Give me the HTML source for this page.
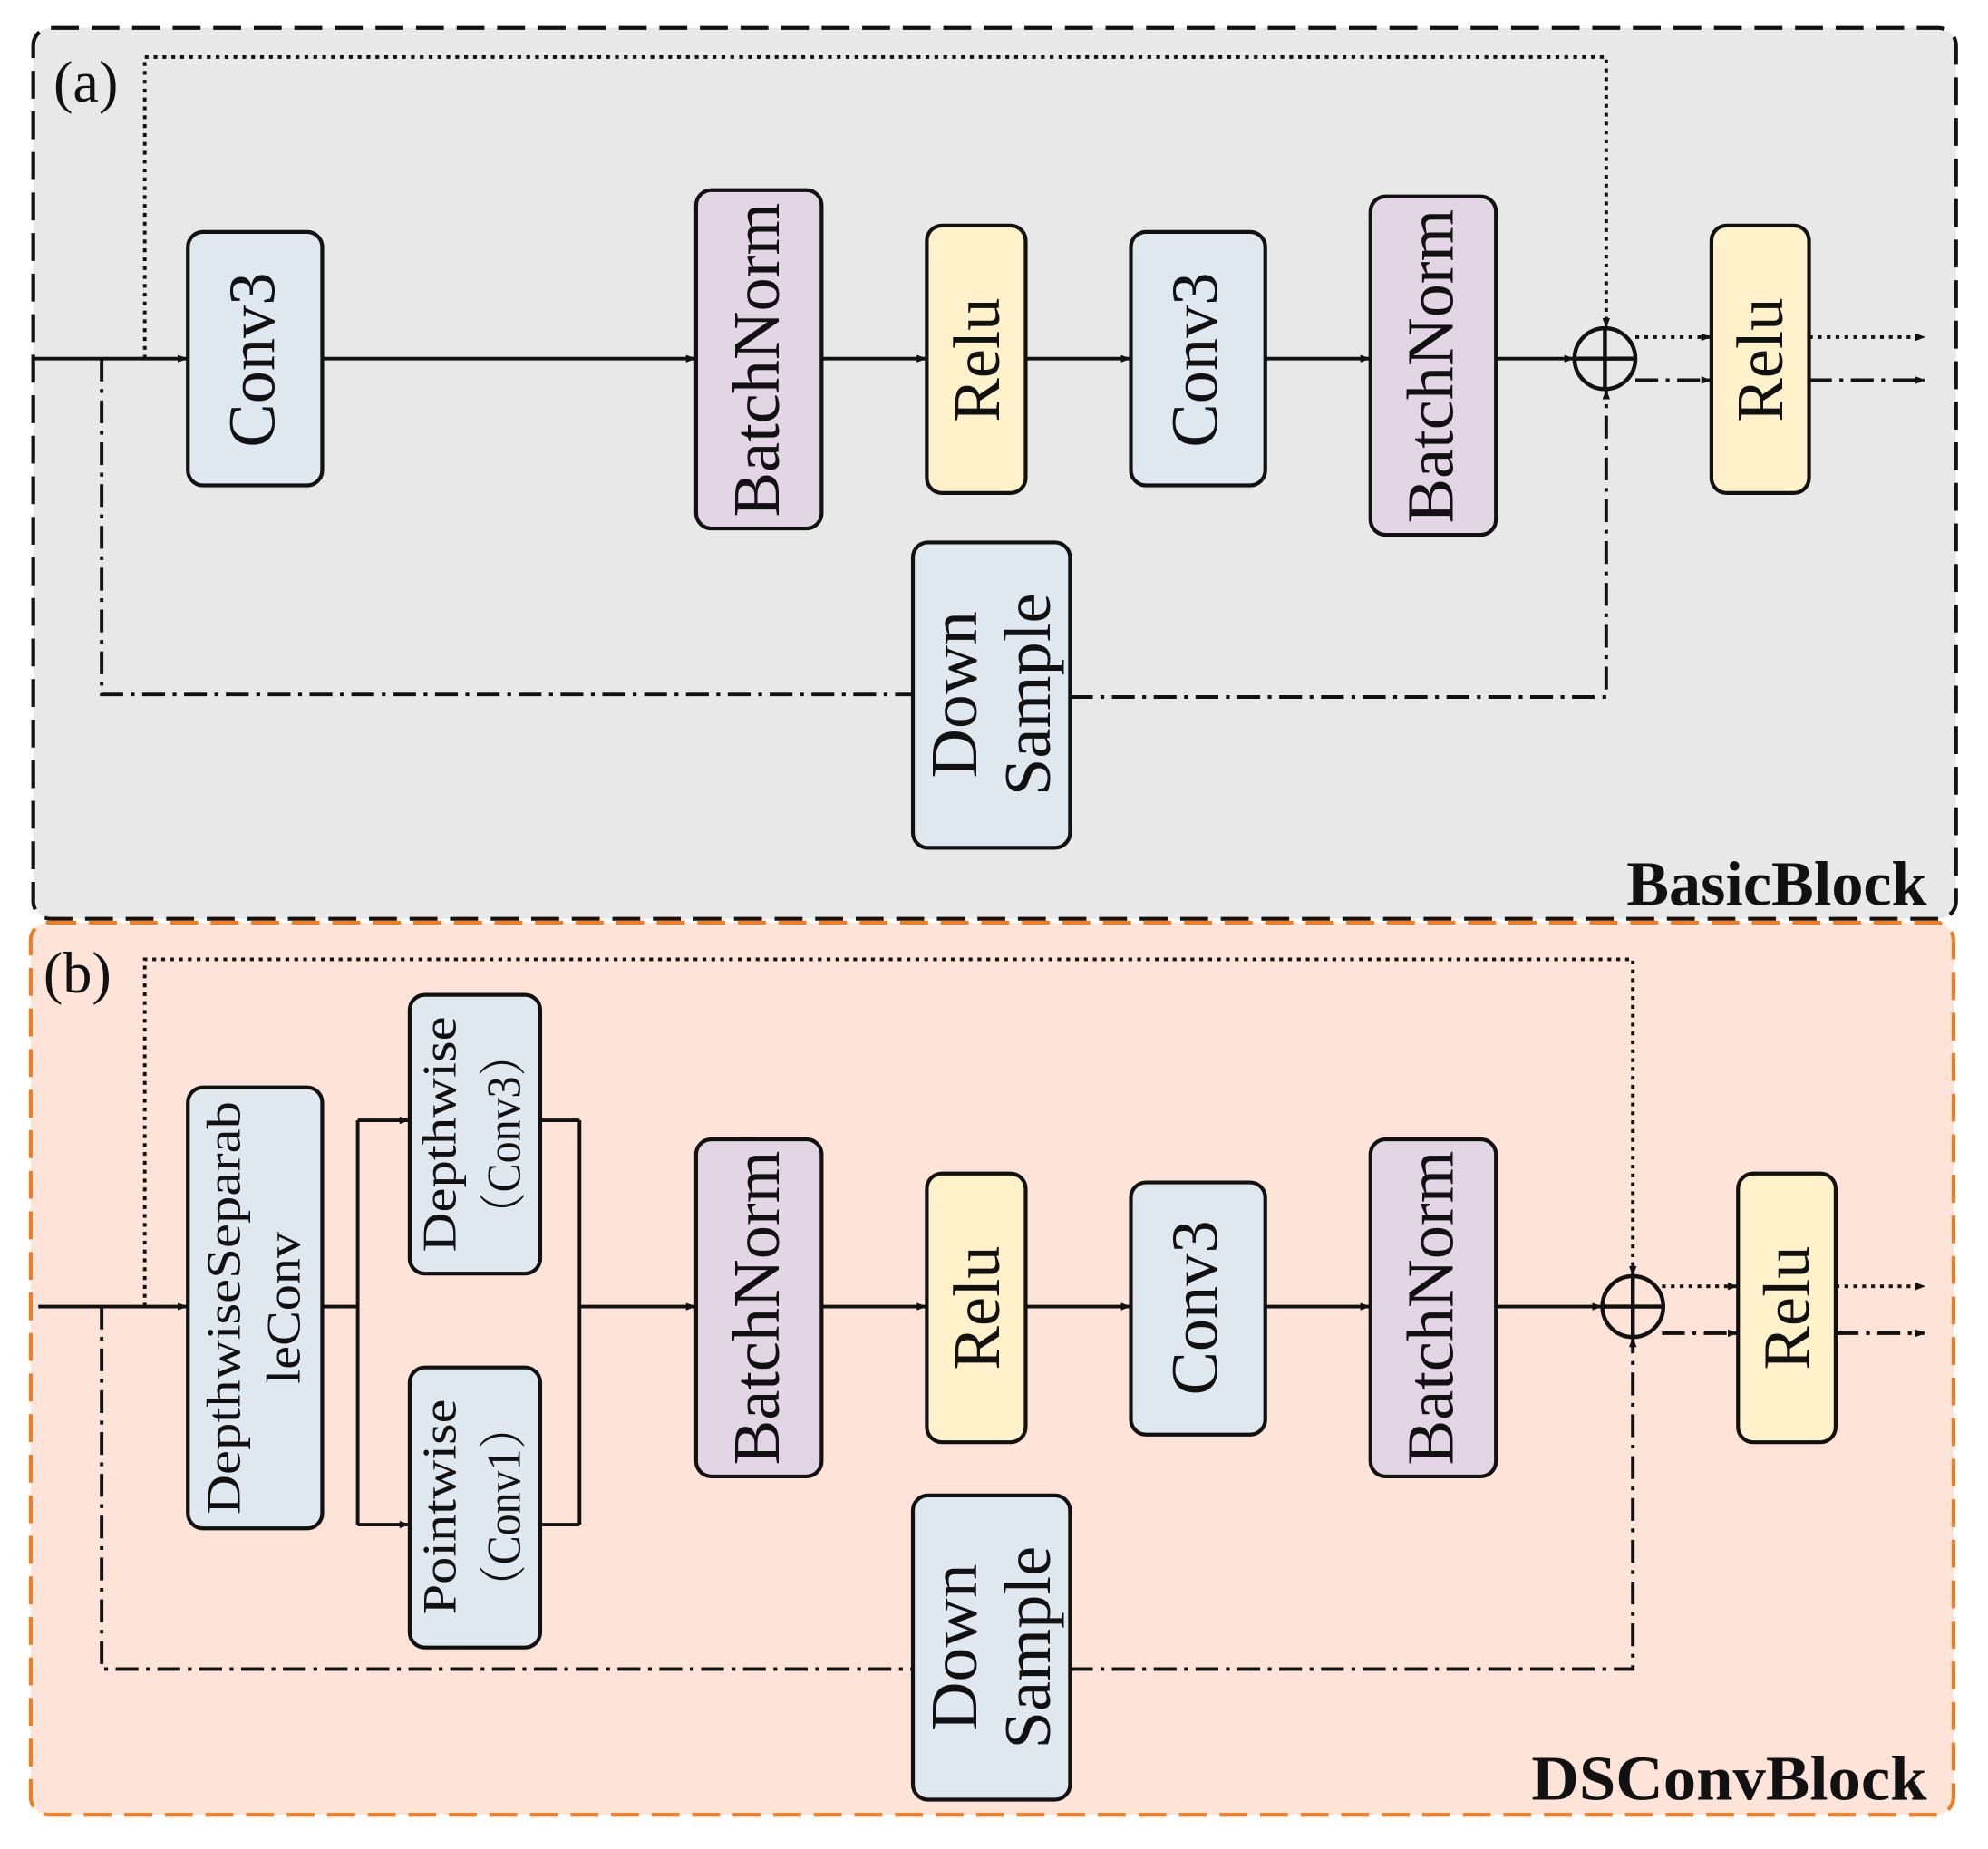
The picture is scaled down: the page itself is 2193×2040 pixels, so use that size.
<!DOCTYPE html>
<html><head><meta charset="utf-8"><style>
html,body{margin:0;padding:0;background:#fff;}
svg{display:block;}
text{font-family:"Liberation Serif","Noto Serif CJK SC",serif;fill:#111;}
</style></head><body>
<svg width="2193" height="2040" viewBox="0 0 1568 1459" xmlns="http://www.w3.org/2000/svg">
<defs>
<marker id="ar" markerWidth="8" markerHeight="8" refX="7" refY="4" orient="auto" markerUnits="userSpaceOnUse">
<path d="M0,1 L8,4 L0,7 Z" fill="#111"/></marker>
</defs>
<rect x="26" y="22" width="1517" height="703" rx="14" fill="#e8e8e8" stroke="#111" stroke-width="3" stroke-dasharray="22,10"/>
<rect x="24" y="728" width="1517" height="704" rx="14" fill="#fde3d8" stroke="#ef7d22" stroke-width="3" stroke-dasharray="22,10"/>
<text x="42" y="80" font-size="46">(a)</text>
<text x="1520" y="714" font-size="50" font-weight="bold" text-anchor="end" textLength="237" lengthAdjust="spacingAndGlyphs">BasicBlock</text>
<text x="34" y="783" font-size="46">(b)</text>
<text x="1520" y="1420" font-size="50" font-weight="bold" text-anchor="end" textLength="312" lengthAdjust="spacingAndGlyphs">DSConvBlock</text>

<g stroke="#111" stroke-width="2.8" fill="none">
<line x1="26" y1="283" x2="147" y2="283" marker-end="url(#ar)"/>
<line x1="254" y1="283" x2="548" y2="283" marker-end="url(#ar)"/>
<line x1="648" y1="283" x2="730" y2="283" marker-end="url(#ar)"/>
<line x1="809" y1="283" x2="891" y2="283" marker-end="url(#ar)"/>
<line x1="998" y1="283" x2="1080" y2="283" marker-end="url(#ar)"/>
<line x1="1180" y1="283" x2="1241" y2="283" marker-end="url(#ar)"/>
<polyline points="114,283 114,45 1267,45 1267,258" stroke-dasharray="3,4" marker-end="url(#ar)"/>
<polyline points="80,283 80,548 720,548" stroke-dasharray="18,6,3,6"/>
<polyline points="844,550 1267,550 1267,308" stroke-dasharray="18,6,3,6" marker-end="url(#ar)"/>
<line x1="1290" y1="266" x2="1349" y2="266" stroke-dasharray="3,4" marker-end="url(#ar)"/>
<line x1="1290" y1="300" x2="1349" y2="300" stroke-dasharray="18,6,3,6" marker-end="url(#ar)"/>
<line x1="1427" y1="266" x2="1518" y2="266" stroke-dasharray="3,4" marker-end="url(#ar)"/>
<line x1="1427" y1="300" x2="1518" y2="300" stroke-dasharray="18,6,3,6" marker-end="url(#ar)"/>
<circle cx="1266" cy="283" r="24" stroke-width="3.2"/>
<line x1="1242" y1="283" x2="1290" y2="283" stroke-width="3.2"/>
<line x1="1266" y1="259" x2="1266" y2="307" stroke-width="3.2"/>

<line x1="30" y1="1031" x2="147" y2="1031" marker-end="url(#ar)"/>
<line x1="254" y1="1031" x2="282" y2="1031"/>
<line x1="282" y1="884" x2="282" y2="1203"/>
<line x1="282" y1="884" x2="322" y2="884" marker-end="url(#ar)"/>
<line x1="282" y1="1203" x2="322" y2="1203" marker-end="url(#ar)"/>
<line x1="426" y1="884" x2="457" y2="884"/>
<line x1="426" y1="1203" x2="457" y2="1203"/>
<line x1="457" y1="884" x2="457" y2="1203"/>
<line x1="457" y1="1031" x2="548" y2="1031" marker-end="url(#ar)"/>
<line x1="648" y1="1031" x2="730" y2="1031" marker-end="url(#ar)"/>
<line x1="809" y1="1031" x2="891" y2="1031" marker-end="url(#ar)"/>
<line x1="998" y1="1031" x2="1080" y2="1031" marker-end="url(#ar)"/>
<line x1="1180" y1="1031" x2="1263" y2="1031" marker-end="url(#ar)"/>
<polyline points="114,1031 114,757 1288,757 1288,1006" stroke-dasharray="3,4" marker-end="url(#ar)"/>
<polyline points="80,1031 80,1317 720,1317" stroke-dasharray="18,6,3,6"/>
<polyline points="844,1317 1288,1317 1288,1056" stroke-dasharray="18,6,3,6" marker-end="url(#ar)"/>
<line x1="1311" y1="1015" x2="1370" y2="1015" stroke-dasharray="3,4" marker-end="url(#ar)"/>
<line x1="1311" y1="1052" x2="1370" y2="1052" stroke-dasharray="18,6,3,6" marker-end="url(#ar)"/>
<line x1="1448" y1="1015" x2="1518" y2="1015" stroke-dasharray="3,4" marker-end="url(#ar)"/>
<line x1="1448" y1="1052" x2="1518" y2="1052" stroke-dasharray="18,6,3,6" marker-end="url(#ar)"/>
<circle cx="1288" cy="1031" r="24" stroke-width="3.2"/>
<line x1="1264" y1="1031" x2="1312" y2="1031" stroke-width="3.2"/>
<line x1="1288" y1="1007" x2="1288" y2="1055" stroke-width="3.2"/>
</g>

<g stroke="#111" stroke-width="3">
<rect x="148" y="183" width="106" height="200" rx="12" fill="#dfe8ee"/>
<rect x="549" y="150" width="99" height="267" rx="12" fill="#e2d6e4"/>
<rect x="731" y="178" width="78" height="211" rx="12" fill="#fff1c9"/>
<rect x="892" y="183" width="106" height="200" rx="12" fill="#dfe8ee"/>
<rect x="1081" y="155" width="99" height="267" rx="12" fill="#e2d6e4"/>
<rect x="1350" y="178" width="77" height="211" rx="12" fill="#fff1c9"/>
<rect x="720" y="428" width="124" height="241" rx="12" fill="#dfe8ee"/>
<rect x="148" y="858" width="106" height="348" rx="12" fill="#dfe8ee"/>
<rect x="323" y="785" width="103" height="220" rx="12" fill="#dfe8ee"/>
<rect x="323" y="1079" width="103" height="221" rx="12" fill="#dfe8ee"/>
<rect x="549" y="899" width="99" height="266" rx="12" fill="#e2d6e4"/>
<rect x="731" y="926" width="78" height="212" rx="12" fill="#fff1c9"/>
<rect x="892" y="933" width="106" height="199" rx="12" fill="#dfe8ee"/>
<rect x="1081" y="899" width="99" height="266" rx="12" fill="#e2d6e4"/>
<rect x="1371" y="926" width="77" height="212" rx="12" fill="#fff1c9"/>
<rect x="720" y="1180" width="124" height="240" rx="12" fill="#dfe8ee"/>
</g>

<g font-size="52" text-anchor="middle" lengthAdjust="spacingAndGlyphs">
<text transform="translate(216,284) rotate(-90)" textLength="138" lengthAdjust="spacingAndGlyphs">Conv3</text>
<text transform="translate(614,284) rotate(-90)" textLength="248" lengthAdjust="spacingAndGlyphs">BatchNorm</text>
<text transform="translate(788,284) rotate(-90)" textLength="98" lengthAdjust="spacingAndGlyphs">Relu</text>
<text transform="translate(960,284) rotate(-90)" textLength="138" lengthAdjust="spacingAndGlyphs">Conv3</text>
<text transform="translate(1146,289) rotate(-90)" textLength="248" lengthAdjust="spacingAndGlyphs">BatchNorm</text>
<text transform="translate(1406,284) rotate(-90)" textLength="98" lengthAdjust="spacingAndGlyphs">Relu</text>
<text transform="translate(770,548) rotate(-90)" textLength="132" lengthAdjust="spacingAndGlyphs">Down</text>
<text transform="translate(828,548) rotate(-90)" textLength="160" lengthAdjust="spacingAndGlyphs">Sample</text>

<text transform="translate(614,1032) rotate(-90)" textLength="248" lengthAdjust="spacingAndGlyphs">BatchNorm</text>
<text transform="translate(788,1032) rotate(-90)" textLength="98" lengthAdjust="spacingAndGlyphs">Relu</text>
<text transform="translate(960,1032) rotate(-90)" textLength="138" lengthAdjust="spacingAndGlyphs">Conv3</text>
<text transform="translate(1146,1032) rotate(-90)" textLength="248" lengthAdjust="spacingAndGlyphs">BatchNorm</text>
<text transform="translate(1427,1032) rotate(-90)" textLength="98" lengthAdjust="spacingAndGlyphs">Relu</text>
<text transform="translate(770,1300) rotate(-90)" textLength="132" lengthAdjust="spacingAndGlyphs">Down</text>
<text transform="translate(828,1300) rotate(-90)" textLength="160" lengthAdjust="spacingAndGlyphs">Sample</text>
</g>
<g font-size="38" text-anchor="middle">
<text transform="translate(189,1032) rotate(-90)" textLength="326" lengthAdjust="spacingAndGlyphs">DepthwiseSeparab</text>
<text transform="translate(236,1032) rotate(-90)" textLength="120" lengthAdjust="spacingAndGlyphs">leConv</text>
<text transform="translate(359,895) rotate(-90)" textLength="186" lengthAdjust="spacingAndGlyphs">Depthwise</text>
<text transform="translate(410,895) rotate(-90)" textLength="160" lengthAdjust="spacingAndGlyphs">（Conv3）</text>
<text transform="translate(359,1189) rotate(-90)" textLength="170" lengthAdjust="spacingAndGlyphs">Pointwise</text>
<text transform="translate(410,1189) rotate(-90)" textLength="160" lengthAdjust="spacingAndGlyphs">（Conv1）</text>
</g>
</svg>
</body></html>
